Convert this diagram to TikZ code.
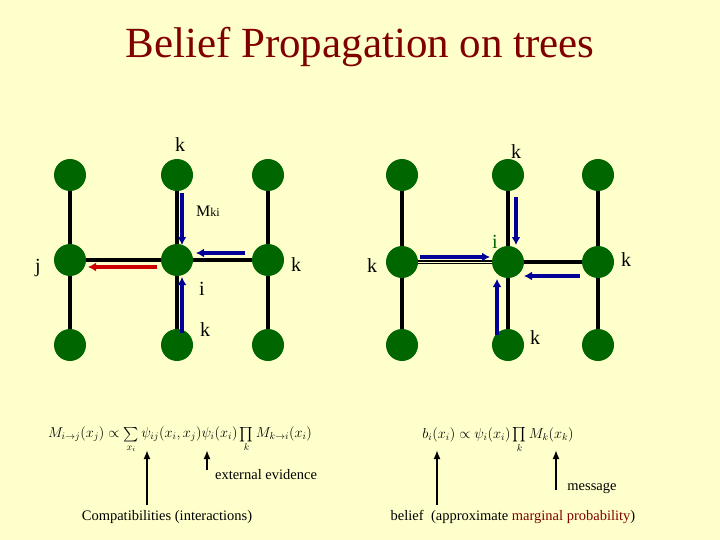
\documentclass[tikz,border=0pt]{standalone}
\usepackage{fontspec}
\setmainfont{Liberation Serif}
\usepackage{amsmath}
\usetikzlibrary{arrows.meta}
\definecolor{bg}{RGB}{255,255,204}
\definecolor{ng}{RGB}{0,102,0}
\definecolor{tred}{RGB}{128,0,0}
\definecolor{ab}{RGB}{0,0,153}
\definecolor{ar}{RGB}{204,0,0}
\begin{document}
\begin{tikzpicture}[x=1pt,y=-1pt,
  dot/.style={circle,fill=ng,minimum size=32pt,inner sep=0pt},
  edge/.style={line width=4pt,black},
  blue/.style={line width=3.5pt,ab,-{Latex[length=8pt,width=9pt]}},
  red/.style={line width=3.5pt,ar,-{Latex[length=8pt,width=9pt]}},
  blk/.style={line width=1.8pt,black,-{Latex[length=9pt,width=7pt]}},
  lab/.style={font=\fontsize{20}{22}\selectfont},
  sm/.style={font=\fontsize{14.5}{16}\selectfont}]
\fill[bg] (0,0) rectangle (720,540);
\useasboundingbox (0,0) rectangle (720,540);
\node[text=tred,font=\fontsize{43}{46}\selectfont] (title) at (360,47) {Belief Propagation on trees};
% left tree
\foreach \n/\x in {a/70,b/177,c/268}{
  \draw[edge] (\x,175) -- (\x,345);
}
\draw[edge] (70,260) -- (268,260);
\foreach \n/\x in {a/70,b/177,c/268}{
  \node[dot] (L\n1) at (\x,175) {};
  \node[dot] (L\n2) at (\x,260) {};
  \node[dot] (L\n3) at (\x,345) {};
}
\coordinate (r1) at (157,267); \coordinate (r2) at (88,267);
\draw[red] (r1) -- (r2);
\coordinate (b1) at (182,193); \coordinate (b2) at (182,245);
\draw[blue] (b1) -- (b2);
\coordinate (b3) at (245,253); \coordinate (b4) at (196,253);
\draw[blue] (b3) -- (b4);
\coordinate (b5) at (182,333); \coordinate (b6) at (182,277);
\draw[blue] (b5) -- (b6);
\node[lab] (lk1) at (180,145) {k};
\node[font=\fontsize{16}{18}\selectfont] (lm) at (208,211) {M\fontsize{12}{14}\selectfont ki};
\node[lab] (lj) at (38,268) {j};
\node[lab] (li) at (202,289) {i};
\node[lab] (lk2) at (296,265) {k};
\node[lab] (lk3) at (205,330) {k};
% right tree
\foreach \n/\x in {a/402,b/508,c/598}{
  \draw[edge] (\x,175) -- (\x,345);
}
\draw[edge] (402,262) -- (598,262);
\draw[line width=1pt,bg] (402,262) -- (508,262);
\foreach \n/\x in {a/402,b/508,c/598}{
  \node[dot] (R\n1) at (\x,175) {};
  \node[dot] (R\n2) at (\x,262) {};
  \node[dot] (R\n3) at (\x,345) {};
}
\coordinate (c1) at (420,257); \coordinate (c2) at (490,257);
\draw[blue] (c1) -- (c2);
\coordinate (c3) at (516,197); \coordinate (c4) at (516,245);
\draw[blue] (c3) -- (c4);
\coordinate (c5) at (580,276); \coordinate (c6) at (524,276);
\draw[blue] (c5) -- (c6);
\coordinate (c7) at (497,335); \coordinate (c8) at (497,279);
\draw[blue] (c7) -- (c8);
\node[lab] (rk1) at (516,152) {k};
\node[lab,text=ng] (ri) at (495,242) {i};
\node[lab] (rk2) at (372,266) {k};
\node[lab] (rk3) at (626,260) {k};
\node[lab] (rk4) at (535,338) {k};
% formulas
\node[font=\fontsize{14.5}{16}\selectfont,inner sep=0pt] (f1) at (180,440) {$M_{i\to j}(x_j)\propto\sum\limits_{x_i}\psi_{ij}(x_i,x_j)\psi_i(x_i)\prod\limits_k M_{k\to i}(x_i)$};
\node[font=\fontsize{14.5}{16}\selectfont,inner sep=0pt] (f2) at (498,440) {$b_i(x_i)\propto\psi_i(x_i)\prod\limits_k M_k(x_k)$};
\node[sm] (t1) at (167,517) {Compatibilities (interactions)};
\node[sm] (t2) at (266,475) {external evidence};
\node[sm] (t3) at (592,488) {message};
\node[sm] (t4) at (513,517) {belief\ \ (approximate \textcolor{tred}{marginal probability})};
\coordinate (a1) at (147,505); \coordinate (a2) at (147,450);
\draw[blk] (a1) -- (a2);
\coordinate (a3) at (207,470); \coordinate (a4) at (207,450);
\draw[blk] (a3) -- (a4);
\coordinate (a5) at (437,505); \coordinate (a6) at (437,450);
\draw[blk] (a5) -- (a6);
\coordinate (a7) at (556,490); \coordinate (a8) at (556,450);
\draw[blk] (a7) -- (a8);
\end{tikzpicture}
\end{document}
